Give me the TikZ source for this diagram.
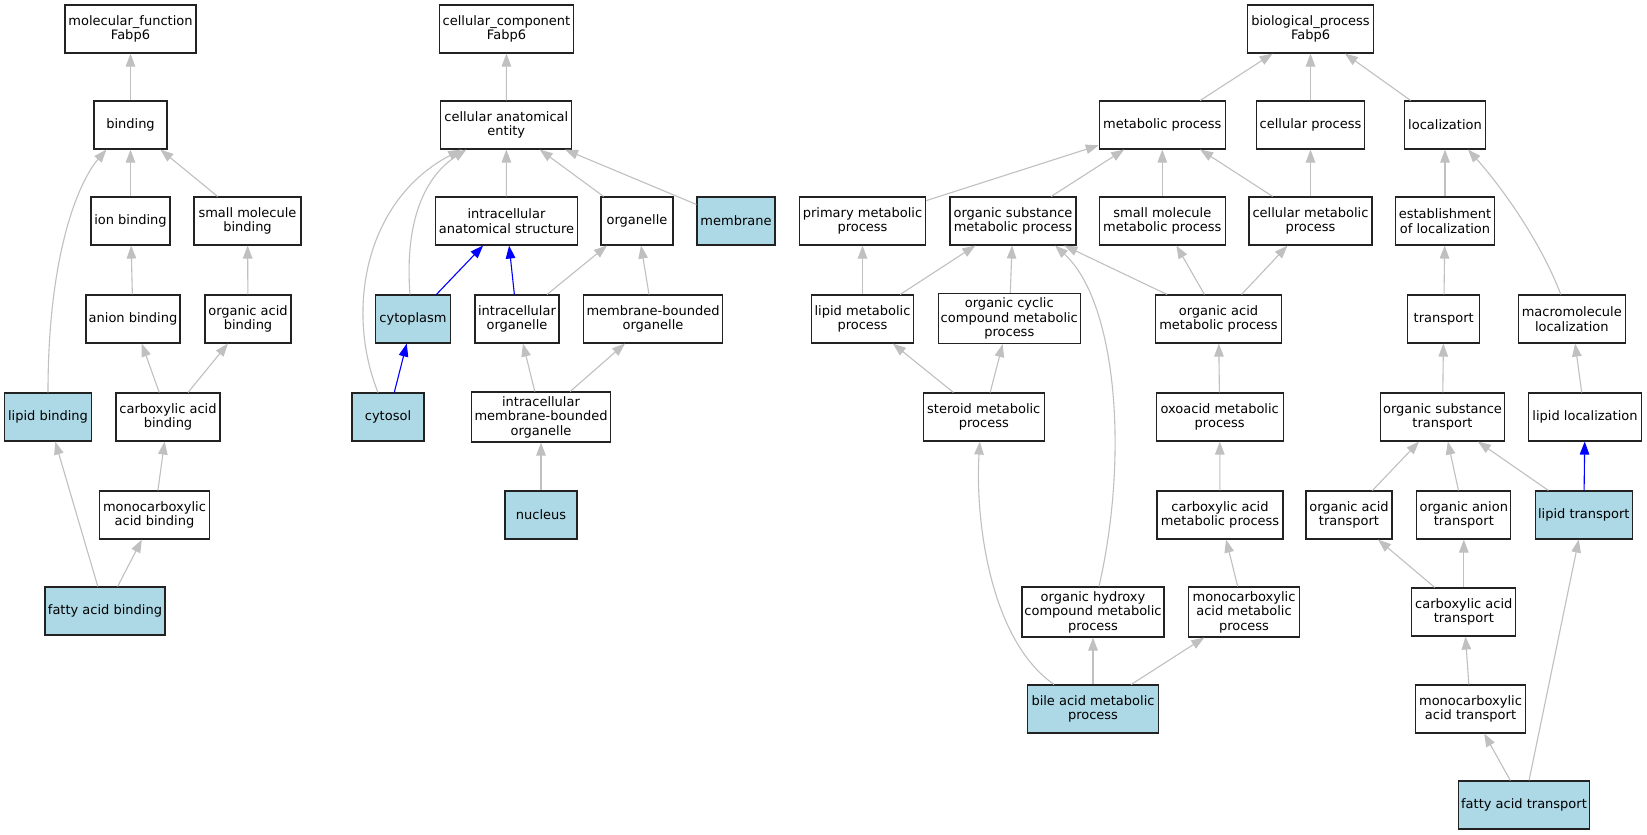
\documentclass[tikz,border=0pt]{standalone}
\usepackage{fontspec}
\setmainfont{DejaVu Sans}
\usetikzlibrary{arrows.meta}
\definecolor{edgegray}{HTML}{C0C0C0}
\definecolor{annot}{HTML}{ADD8E6}
\definecolor{boxline}{HTML}{222222}
\begin{document}
\begin{tikzpicture}[x=1pt,y=-1pt,
  box/.style={draw=boxline, line width=1.1pt, fill=white, minimum height=48pt, inner sep=1pt, align=center, font=\fontsize{13}{14.5}\selectfont},
  tall/.style={minimum height=50pt},
  hit/.style={fill=annot},
  isa/.style={draw=edgegray, line width=1.1pt, -{Triangle[length=13pt,width=9.5pt]}},
  isab/.style={draw=blue, line width=1.1pt, -{Triangle[length=13pt,width=9.5pt]}}]
\useasboundingbox[fill=white] (0,0) rectangle (1647,835);

% ---------- molecular function ----------
\node[box, minimum width=131pt] (mf) at (130.5,29) {molecular\_function\\Fabp6};
\node[box, minimum width=73pt] (bind) at (130.5,125) {binding};
\node[box, minimum width=79pt] (ionb) at (130.5,221) {ion binding};
\node[box, minimum width=107pt] (smb) at (247.5,221) {small molecule\\binding};
\node[box, minimum width=94pt] (anb) at (133,319) {anion binding};
\node[box, minimum width=86pt] (oab) at (248,319) {organic acid\\binding};
\node[box, hit, minimum width=87pt] (lipb) at (48,417) {lipid binding};
\node[box, minimum width=104pt] (cab) at (168,417) {carboxylic acid\\binding};
\node[box, minimum width=110pt] (mcab) at (154.5,515) {monocarboxylic\\acid binding};
\node[box, hit, minimum width=120pt] (fab) at (105,611) {fatty acid binding};

% ---------- cellular component ----------
\node[box, minimum width=134pt] (cc) at (506.5,29) {cellular\_component\\Fabp6};
\node[box, minimum width=131pt] (cae) at (506.3,125) {cellular anatomical\\entity};
\node[box, minimum width=142pt] (ias) at (506.5,221) {intracellular\\anatomical structure};
\node[box, minimum width=72pt] (org) at (637,221) {organelle};
\node[box, hit, minimum width=78pt] (mem) at (736,221) {membrane};
\node[box, hit, minimum width=75pt] (cyto) at (413,319) {cytoplasm};
\node[box, minimum width=84pt] (io) at (517,319) {intracellular\\organelle};
\node[box, minimum width=139pt] (mbo) at (653,319) {membrane-bounded\\organelle};
\node[box, hit, minimum width=72pt] (cytosol) at (388,417) {cytosol};
\node[box, tall, minimum width=139pt] (imbo) at (541,417) {intracellular\\membrane-bounded\\organelle};
\node[box, hit, minimum width=72pt] (nuc) at (541,515) {nucleus};

% ---------- biological process ----------
\node[box, minimum width=126pt] (bp) at (1310.5,29) {biological\_process\\Fabp6};
\node[box, minimum width=126pt] (mp) at (1162.3,125) {metabolic process};
\node[box, minimum width=108pt] (cp) at (1310.5,125) {cellular process};
\node[box, minimum width=81pt] (loc) at (1445,125) {localization};
\node[box, minimum width=126pt] (pmp) at (862.5,221) {primary metabolic\\process};
\node[box, minimum width=126pt] (osmp) at (1013,221) {organic substance\\metabolic process};
\node[box, minimum width=126pt] (smmp) at (1162.3,221) {small molecule\\metabolic process};
\node[box, minimum width=123pt] (cmp) at (1310.5,221) {cellular metabolic\\process};
\node[box, minimum width=99pt] (eol) at (1445,221) {establishment\\of localization};
\node[box, minimum width=102pt] (lmp) at (862.5,319) {lipid metabolic\\process};
\node[box, tall, minimum width=142pt] (occmp) at (1009.3,318.5) {organic cyclic\\compound metabolic\\process};
\node[box, minimum width=126pt] (oamp) at (1218.5,319) {organic acid\\metabolic process};
\node[box, minimum width=72pt] (tr) at (1443.7,319) {transport};
\node[box, minimum width=107pt] (mloc) at (1571.8,319) {macromolecule\\localization};
\node[box, minimum width=121pt] (smp) at (983.8,417) {steroid metabolic\\process};
\node[box, minimum width=127pt] (oxmp) at (1219.7,417) {oxoacid metabolic\\process};
\node[box, minimum width=124pt] (ost) at (1442.5,417) {organic substance\\transport};
\node[box, minimum width=113pt] (lloc) at (1585,417) {lipid localization};
\node[box, minimum width=126pt] (camp) at (1220,515) {carboxylic acid\\metabolic process};
\node[box, minimum width=86pt] (oat) at (1349,515) {organic acid\\transport};
\node[box, minimum width=94pt] (oant) at (1463.8,515) {organic anion\\transport};
\node[box, hit, minimum width=97pt] (ltr) at (1583.8,515) {lipid transport};
\node[box, tall, minimum width=142pt] (ohcmp) at (1093,612) {organic hydroxy\\compound metabolic\\process};
\node[box, tall, minimum width=111pt] (mcamp) at (1244,612) {monocarboxylic\\acid metabolic\\process};
\node[box, minimum width=104pt] (cat) at (1463.8,612) {carboxylic acid\\transport};
\node[box, hit, minimum width=131pt] (bamp) at (1093,709) {bile acid metabolic\\process};
\node[box, minimum width=110pt] (mcat) at (1470.5,709) {monocarboxylic\\acid transport};
\node[box, hit, minimum width=131pt] (fat) at (1524,805) {fatty acid transport};

% ---------- edges: molecular function ----------
\draw[isa] (bind) -- (mf);
\draw[isa] (ionb) -- (bind);
\draw[isa] (smb) -- (bind);
\draw[isa] (lipb.north) .. controls (48,250) and (80,180) .. ([xshift=-24pt]bind.south);
\draw[isa] (anb) -- (ionb);
\draw[isa] (oab) -- (smb);
\draw[isa] (cab) -- (anb);
\draw[isa] (cab) -- (oab);
\draw[isa] (mcab) -- (cab);
\draw[isa] (fab) -- (mcab);
\draw[isa] (fab) -- (lipb);

% ---------- edges: cellular component ----------
\draw[isa] (cae) -- (cc);
\draw[isa] (ias) -- (cae);
\draw[isa] (org) -- (cae);
\draw[isa] (mem) -- (cae);
\draw[isa] ([xshift=-3pt]cyto.north) .. controls (405,230) and (420,180) .. ([xshift=-40pt]cae.south);
\draw[isa] ([xshift=-10pt]cytosol.north) .. controls (345,310) and (365,200) .. ([xshift=-45pt]cae.south);
\draw[isab] (cyto) -- (ias);
\draw[isab] (io) -- (ias);
\draw[isa] (io) -- (org);
\draw[isa] (mbo) -- (org);
\draw[isab] (cytosol) -- (cyto);
\draw[isa] (imbo) -- (io);
\draw[isa] (imbo) -- (mbo);
\draw[isa] (nuc) -- (imbo);

% ---------- edges: biological process ----------
\draw[isa] (mp) -- (bp);
\draw[isa] (cp) -- (bp);
\draw[isa] (loc) -- (bp);
\draw[isa] (pmp) -- (mp);
\draw[isa] (osmp) -- (mp);
\draw[isa] (smmp) -- (mp);
\draw[isa] (cmp) -- (mp);
\draw[isa] (cmp) -- (cp);
\draw[isa] (eol) -- (loc);
\draw[isa] ([xshift=-11pt]mloc.north) .. controls (1540,240) and (1500,185) .. ([xshift=23pt]loc.south);
\draw[isa] (lmp) -- (pmp);
\draw[isa] (lmp) -- (osmp);
\draw[isa] (occmp) -- (osmp);
\draw[isa] (oamp) -- (osmp);
\draw[isa] (oamp) -- (smmp);
\draw[isa] (oamp) -- (cmp);
\draw[isa] ([xshift=6pt]ohcmp.north) .. controls (1130,450) and (1115,300) .. ([xshift=42pt]osmp.south);
\draw[isa] (smp) -- (lmp);
\draw[isa] (smp) -- (occmp);
\draw[isa] (oxmp) -- (oamp);
\draw[isa] (camp) -- (oxmp);
\draw[isa] (mcamp) -- (camp);
\draw[isa] ([xshift=-39pt]bamp.north) .. controls (990,640) and (975,520) .. ([xshift=-4pt]smp.south);
\draw[isa] (bamp) -- (ohcmp);
\draw[isa] (bamp) -- (mcamp);
\draw[isa] (tr) -- (eol);
\draw[isa] (ost) -- (tr);
\draw[isa] (lloc) -- (mloc);
\draw[isa] (oat) -- (ost);
\draw[isa] (oant) -- (ost);
\draw[isa] (ltr) -- (ost);
\draw[isab] (ltr) -- (lloc);
\draw[isa] (cat) -- (oat);
\draw[isa] (cat) -- (oant);
\draw[isa] (mcat) -- (cat);
\draw[isa] (fat) -- (mcat);
\draw[isa] (fat) -- (ltr);
\end{tikzpicture}
\end{document}
